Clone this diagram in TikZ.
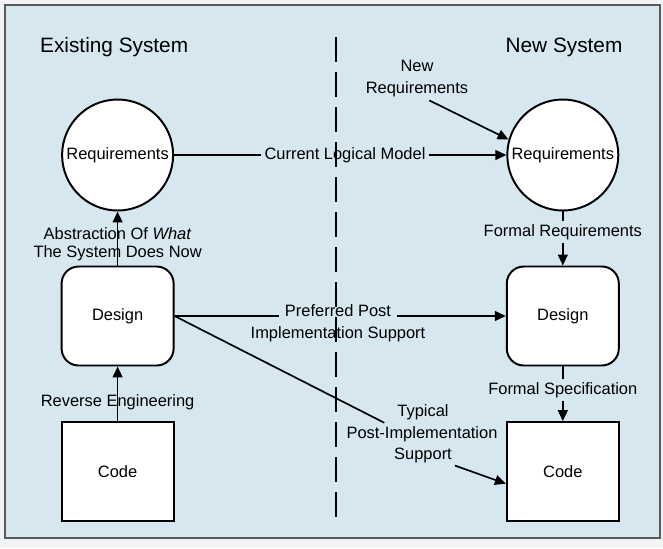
\documentclass[tikz,border=0pt]{standalone}
\usepackage{fontspec}
\setmainfont{Liberation Sans}
\usetikzlibrary{arrows.meta}
\definecolor{bgblue}{RGB}{214,231,240}
\definecolor{framegray}{RGB}{90,90,90}
\definecolor{margingray}{RGB}{242,243,244}
\tikzset{
  reqcircle/.style={circle, draw, line width=1.4pt, fill=white, minimum size=2.775cm, inner sep=0pt},
  procbox/.style={draw, line width=1.4pt, fill=white, minimum width=2.8cm, minimum height=2.475cm, inner sep=0pt},
  link/.style={line width=1.2pt},
  arr/.style={-{Triangle[length=7.8pt,width=7pt]}, line width=1.2pt},
  lbl/.style={align=center, inner sep=2pt},
  title/.style={font=\fontsize{14.8}{17}\selectfont}
}

\begin{document}
\begin{tikzpicture}[font=\fontsize{11.7}{15.6}\selectfont]
\useasboundingbox (0cm,0cm) rectangle (16.575cm,-13.7cm);
\fill[margingray] (0cm,0cm) rectangle (16.575cm,-13.7cm);
\draw[framegray, fill=bgblue, line width=0.8pt] (0.125cm,-0.125cm) rectangle (16.5cm,-13.45cm);
% divider
\draw[line width=1.2pt, dash pattern=on 0.625cm off 0.25cm] (8.4cm,-0.925cm) -- (8.4cm,-13cm);
\node[title, anchor=west] (exsys) at (0.88cm,-1.175cm) {Existing System};
\node[title] (newsys) at (14.1cm,-1.175cm) {New System};
% boxes
\node[reqcircle] (lreq) at (2.94cm,-3.875cm) {Requirements};
\node[reqcircle] (rreq) at (14.07cm,-3.875cm) {Requirements};
\node[procbox, rounded corners=0.425cm] (ldes) at (2.94cm,-7.9cm) {Design};
\node[procbox, rounded corners=0.425cm] (rdes) at (14.07cm,-7.9cm) {Design};
\node[procbox] (lcode) at (2.94cm,-11.79cm) {Code};
\node[procbox] (rcode) at (14.07cm,-11.79cm) {Code};
% labels
\node[lbl] (clm) at (8.625cm,-3.875cm) {Current Logical Model};
\node[lbl] (newreq) at (10.425cm,-1.975cm) {New\\Requirements};
\node[lbl] (freq) at (14.07cm,-5.8cm) {Formal Requirements};
\node[lbl] (fspec) at (14.07cm,-9.75cm) {Formal Specification};
\node[anchor=base, inner sep=2pt, inner xsep=4pt] (pp1) at (8.45cm,-7.9cm) {Preferred Post};
\node[anchor=base, inner sep=2pt] (pp2) at (8.45cm,-8.45cm) {Implementation Support};
\node[lbl] (typ1) at (10.575cm,-10.3cm) {Typical};
\node[lbl] (typ2) at (10.55cm,-10.85cm) {Post-Implementation};
\node[lbl] (typ3) at (10.575cm,-11.375cm) {Support};
% connectors
\draw[link] (lreq) -- (clm);
\draw[arr] (clm) -- (rreq);
\draw[arr] (newreq.-60) -- (rreq.164);
\draw[link] (rreq) -- (freq);
\draw[arr] (freq) -- (rdes);
\draw[link] (rdes) -- (fspec);
\draw[arr] (fspec) -- (rcode);
\draw[arr] (ldes) -- node[lbl, pos=0.4, font=\fontsize{11.7}{12.8}\selectfont] (abst) {Abstraction Of \textit{What}\\The System Does Now} (lreq);
\draw[arr] (lcode) -- node[lbl, pos=0.35] (reveng) {Reverse Engineering} (ldes);
\draw[link] (ldes.east) -- (pp1.base west);
\draw[arr] (pp1.base east) -- (rdes.west);
\draw[link] (ldes.east) -- ([xshift=-0.25cm]typ1.south west);
\draw[arr] (typ3.south east) -- (rcode.192);
\end{tikzpicture}
\end{document}
